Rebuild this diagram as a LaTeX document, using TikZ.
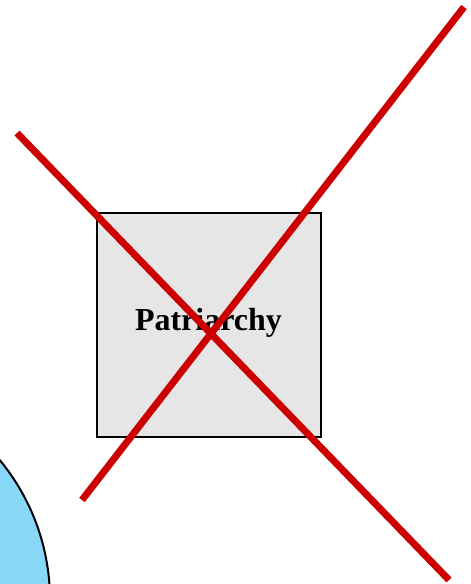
\documentclass[tikz,border=0pt]{standalone}
\usepackage{fontspec}
\setmainfont{Liberation Serif}
\definecolor{crossred}{RGB}{204, 0, 0}
\definecolor{boxgray}{RGB}{230, 230, 230}
\definecolor{skyblue}{RGB}{135, 216, 247}
\tikzset{
  crossline/.style={draw=crossred, line width=7pt},
  mainbox/.style={
    rectangle, draw=black, fill=boxgray, line width=1.5pt,
    minimum width=224pt, minimum height=224pt, inner sep=0pt
  }
}

\begin{document}
\begin{tikzpicture}[x=1pt, y=-1pt]
\useasboundingbox (0,0) rectangle (471,584);
% Cercle (coin bas gauche)
\begin{scope}
\clip (0,0) rectangle (471,584);
\node[circle, draw=black, fill=skyblue, line width=2pt, minimum size=440pt, inner sep=0pt] (ball) at (-170,600) {};
\end{scope}
% Boite
\node[mainbox] (box) at (209,325) {};
\node[font=\fontsize{32}{32}\selectfont\bfseries] (label) at (208.5,322.5) {Patriarchy};
% Croix
\coordinate (a1) at (17,133);
\coordinate (a2) at (449,580);
\coordinate (b1) at (82,500);
\coordinate (b2) at (464,7);
\draw[crossline] (a1) -- (a2);
\draw[crossline] (b1) -- (b2);
\end{tikzpicture}
\end{document}
